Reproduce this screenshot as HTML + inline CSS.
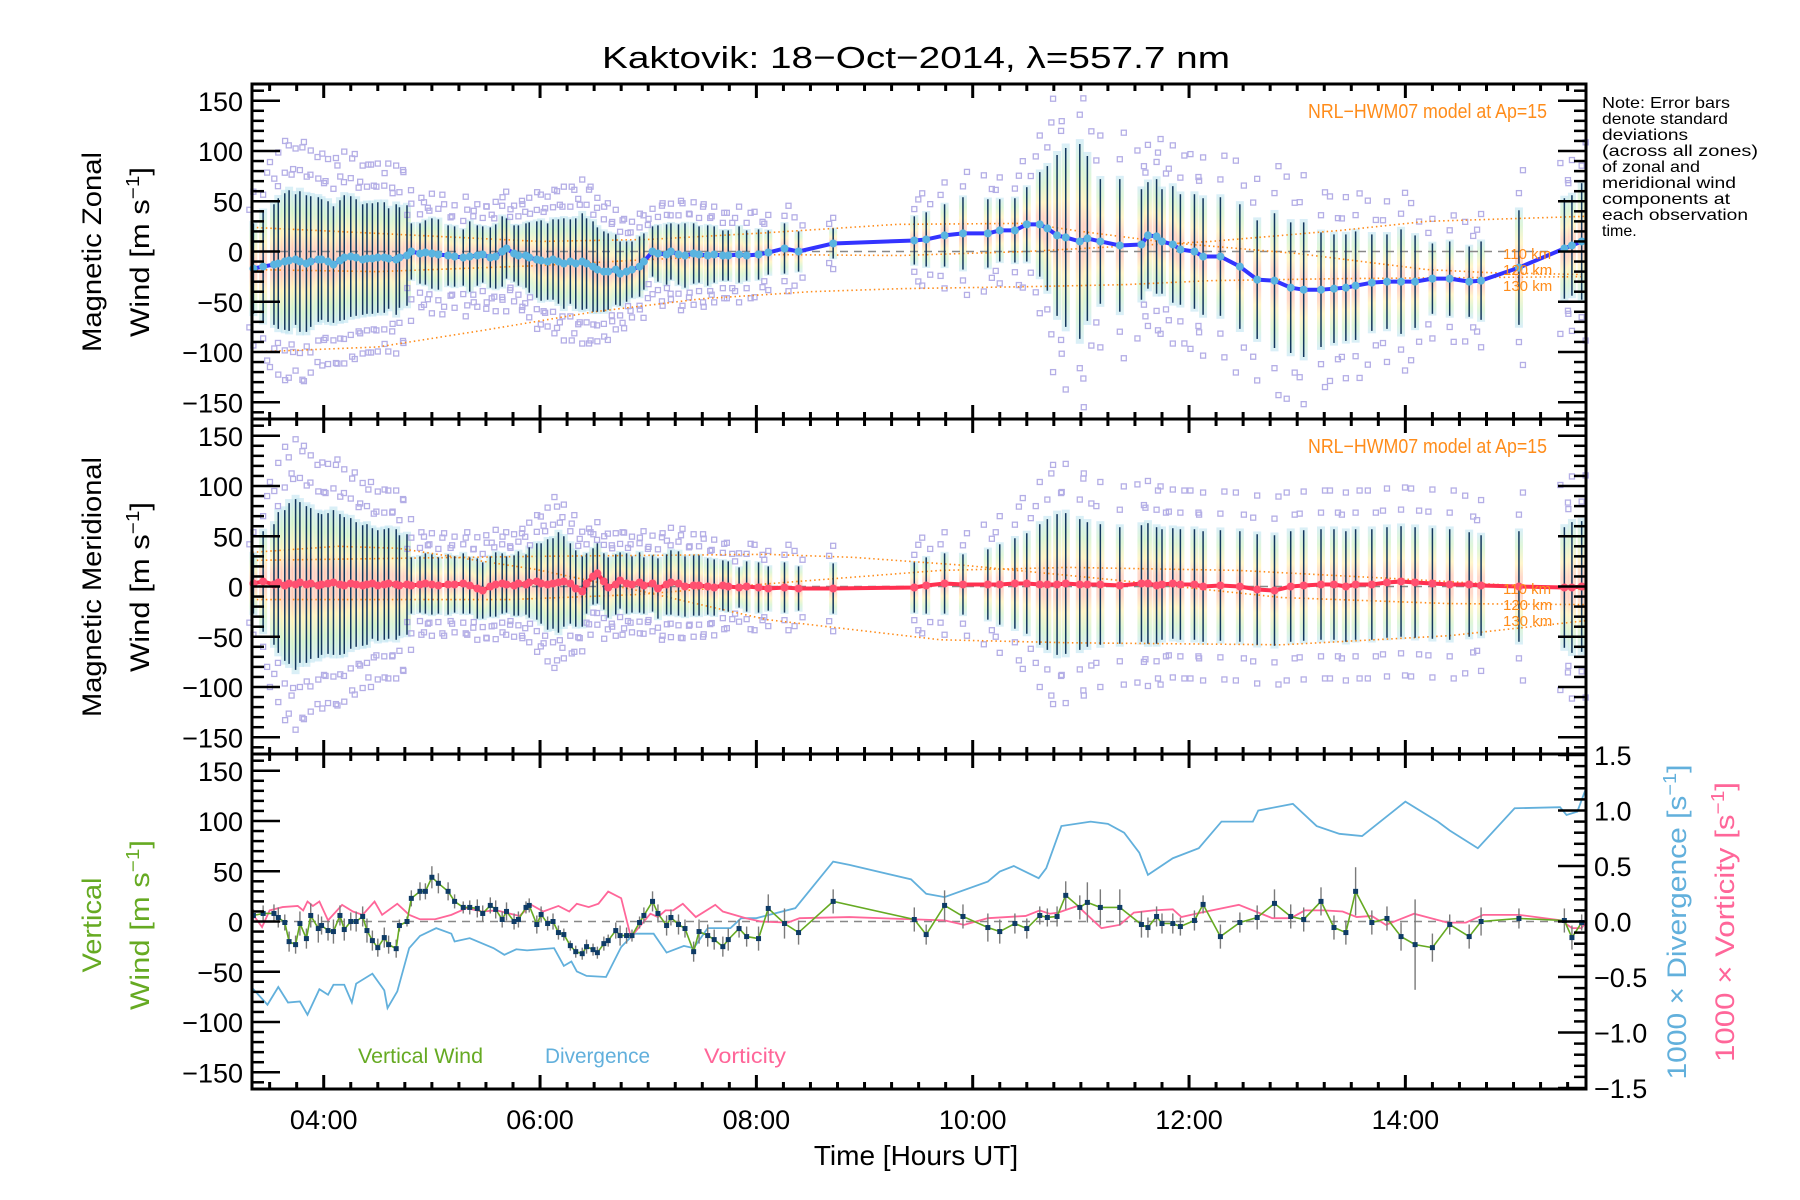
<!DOCTYPE html>
<html><head><meta charset="utf-8"><title>Kaktovik winds</title>
<style>
html,body{margin:0;padding:0;background:#fff;}
svg{display:block;font-family:"Liberation Sans",sans-serif;}
</style></head>
<body>
<svg id="chart" width="1800" height="1200" viewBox="0 0 1800 1200" xmlns="http://www.w3.org/2000/svg">
<defs>
<linearGradient id="band" x1="0" y1="0" x2="0" y2="1">
<stop offset="0" stop-color="#c0e4f4"/><stop offset="0.15" stop-color="#c8f0c0"/><stop offset="0.3" stop-color="#fff0a8"/>
<stop offset="0.42" stop-color="#ffc0a8"/><stop offset="0.58" stop-color="#ffc0a8"/><stop offset="0.7" stop-color="#fff0a8"/><stop offset="0.85" stop-color="#c8f0c0"/><stop offset="1" stop-color="#c0e4f4"/>
</linearGradient>
</defs>
<text x="916" y="68" text-anchor="middle" font-size="31" textLength="628" lengthAdjust="spacingAndGlyphs">Kaktovik: 18−Oct−2014, λ=557.7 nm</text>
<g font-size="16" fill="#000">
<text x="1602" y="108" textLength="128" lengthAdjust="spacingAndGlyphs">Note: Error bars</text>
<text x="1602" y="124" textLength="126" lengthAdjust="spacingAndGlyphs">denote standard</text>
<text x="1602" y="140" textLength="86" lengthAdjust="spacingAndGlyphs">deviations</text>
<text x="1602" y="156" textLength="156" lengthAdjust="spacingAndGlyphs">(across all zones)</text>
<text x="1602" y="172" textLength="98" lengthAdjust="spacingAndGlyphs">of zonal and</text>
<text x="1602" y="188" textLength="134" lengthAdjust="spacingAndGlyphs">meridional wind</text>
<text x="1602" y="204" textLength="128" lengthAdjust="spacingAndGlyphs">components at</text>
<text x="1602" y="220" textLength="146" lengthAdjust="spacingAndGlyphs">each observation</text>
<text x="1602" y="236">time.</text>
</g>
</svg>
<script>
// ---------- data ----------
const obsTimes = [3.35,3.44,3.54,3.58,3.64,3.68,3.74,3.78,3.84,3.88,3.95,3.98,4.04,4.09,4.15,4.19,4.25,4.30,4.36,4.40,4.45,4.50,4.56,4.60,4.67,4.70,4.77,4.81,4.89,4.94,5.00,5.06,5.15,5.21,5.29,5.35,5.42,5.47,5.54,5.59,5.65,5.69,5.76,5.80,5.87,5.90,5.97,6.01,6.07,6.12,6.17,6.22,6.28,6.33,6.39,6.43,6.49,6.53,6.59,6.63,6.70,6.74,6.80,6.85,6.92,6.96,7.04,7.09,7.17,7.21,7.28,7.34,7.42,7.47,7.55,7.61,7.69,7.74,7.84,7.91,8.02,8.11,8.26,8.39,8.71,
9.46,9.57,9.74,9.91,10.14,10.25,10.39,10.50,10.62,10.69,10.78,10.86,10.99,11.06,11.18,11.36,11.56,11.62,11.70,11.75,11.85,11.92,12.05,12.13,12.29,12.47,12.63,12.79,12.94,13.06,13.22,13.34,13.45,13.54,13.69,13.83,13.96,14.09,14.25,14.41,14.59,14.70,15.05,15.47,15.54,15.63];
const zonalMean = [-17,-15,-13,-12,-10,-9,-8,-10,-12,-10,-8,-8,-10,-13,-9,-6,-5,-6,-8,-7,-7,-6,-6,-7,-8,-6,-4,0,-2,-1,-2,-3,-4,-5,-6,-5,-4,-3,-6,-5,0,3,-2,-4,-4,-6,-8,-9,-10,-8,-10,-12,-10,-12,-10,-12,-15,-18,-20,-20,-18,-22,-20,-18,-15,-10,0,-2,-3,0,-3,-4,-2,-3,-4,-3,-4,-4,-3,-4,-3,-1,3,0,8,
11,12,16,18,18,21,21,27,27,23,16,14,10,13,10,6,7,16,15,10,7,2,0,-5,-5,-15,-28,-29,-36,-38,-38,-37,-36,-34,-31,-30,-30,-30,-27,-27,-30,-29,-16,3,6,10];
const zonalSd = [45,55,60,65,68,70,65,70,68,65,62,60,60,58,60,62,60,58,55,55,55,55,55,50,55,50,50,
28,30,32,35,35,30,30,28,35,30,28,30,32,35,30,28,30,32,35,38,40,38,40,42,45,42,45,48,45,45,42,40,38,35,32,30,28,30,28,
25,28,30,28,30,32,30,28,30,28,25,25,28,25,25,22,25,20,15,
24,27,31,36,34,31,32,37,52,62,80,89,97,82,62,66,55,53,57,52,58,55,57,58,59,62,59,67,65,67,57,54,53,54,48,47,52,46,35,37,35,39,57,50,50,58];
const meridMean = [3,5,2,4,1,3,2,4,2,3,1,2,3,4,2,1,3,2,1,2,3,1,2,3,2,1,2,
1,2,3,2,1,2,2,3,1,-2,-4,0,2,3,2,1,3,2,4,5,3,2,3,4,5,3,-2,-5,3,10,13,5,-1,2,6,3,2,4,1,
3,-2,2,4,3,0,1,1,0,-1,1,0,-1,0,-1,-2,-1,-2,-2,
-1,1,3,2,2,2,3,3,2,2,2,3,2,2,2,1,3,3,1,2,3,2,2,0,1,0,-3,-4,0,1,2,2,0,2,2,4,5,4,3,2,2,1,0,-1,-1,0];
const meridSd = [30,50,60,70,75,80,85,80,78,75,72,70,70,72,70,68,65,62,60,60,55,55,55,55,55,50,50,
28,28,30,30,28,30,28,30,28,30,28,30,32,30,28,30,32,30,35,38,40,45,45,50,45,40,38,35,30,28,30,28,30,30,28,30,28,30,28,
28,30,30,32,32,30,30,30,28,28,25,25,20,25,25,22,25,22,25,
25,28,30,30,35,40,45,50,60,65,70,70,65,62,60,58,58,60,58,55,55,55,55,55,55,55,55,55,55,55,55,55,55,55,55,55,55,55,55,55,52,50,55,60,65,65];
const vertWind = [6,8,8,4,-1,-20,-23,-2,-17,6,-7,-4,-9,-10,6,-8,0,0,5,-9,-19,-26,-16,-23,-27,-4,0,23,30,30,44,38,30,20,14,14,13,8,16,12,2,10,0,2,14,16,-3,7,-2,0,-11,-13,-24,-30,-32,-25,-28,-31,-22,-19,-9,-14,-14,-14,-1,6,20,8,-4,4,-3,-7,-30,-10,-14,-18,-25,-18,-7,-15,-17,13,-2,-11,20,
2,-13,16,5,-6,-10,-2,-7,6,4,5,26,14,19,14,14,-3,-6,5,-2,-2,-5,1,17,-15,-1,4,18,5,2,20,-6,-11,30,-1,3,-15,-23,-26,-3,-15,0,3,1,-16,-1];
const vertErr = [6,8,9,10,8,10,9,12,10,12,14,9,10,12,10,11,9,10,10,12,10,9,10,9,9,6,5,8,9,8,11,10,9,7,6,7,9,8,8,9,8,9,8,8,6,7,9,8,7,8,7,6,5,6,6,7,6,6,7,6,8,10,8,6,6,8,10,9,10,8,10,9,10,12,11,10,10,11,9,10,12,14,15,12,12,
12,10,15,12,14,12,10,10,9,9,10,14,12,20,18,18,13,10,10,10,10,9,10,9,12,10,12,14,12,12,14,12,12,24,12,12,14,45,14,10,12,14,10,12,12,8];
const divTimes = [3.34,3.48,3.58,3.67,3.78,3.85,3.96,4.04,4.09,4.19,4.26,4.30,4.45,4.56,4.59,4.68,4.79,4.89,5.04,5.18,5.21,5.35,5.57,5.67,5.78,5.88,6.13,6.22,6.29,6.34,6.43,6.61,6.75,6.87,7.05,7.17,7.33,7.42,7.55,7.76,7.86,8.00,8.36,8.71,8.86,9.43,9.57,9.74,10.14,10.25,10.38,10.61,10.68,10.82,11.09,11.25,11.40,11.54,11.62,11.85,12.09,12.30,12.59,12.64,12.96,13.18,13.39,13.60,14.00,14.30,14.41,14.67,15.01,15.43,15.49,15.59,15.67];
const divValues = [-0.60,-0.75,-0.59,-0.73,-0.72,-0.84,-0.61,-0.66,-0.57,-0.57,-0.73,-0.56,-0.47,-0.62,-0.78,-0.63,-0.24,-0.13,-0.06,-0.11,-0.18,-0.15,-0.24,-0.30,-0.25,-0.26,-0.24,-0.40,-0.36,-0.45,-0.49,-0.50,-0.23,-0.11,-0.11,-0.28,-0.22,-0.24,-0.06,-0.06,0.03,0.03,0.12,0.54,0.51,0.38,0.25,0.22,0.36,0.45,0.50,0.39,0.48,0.86,0.9,0.88,0.8,0.62,0.42,0.57,0.66,0.9,0.9,1.0,1.06,0.86,0.79,0.77,1.08,0.9,0.82,0.66,1.02,1.03,0.96,0.99,1.2];
const vorTimes = [3.34,3.43,3.50,3.62,3.76,3.81,3.85,3.90,3.96,4.04,4.17,4.27,4.36,4.47,4.54,4.68,4.79,4.89,5.03,5.18,5.32,5.46,5.60,5.81,5.92,6.03,6.17,6.27,6.34,6.45,6.54,6.63,6.75,6.84,7.02,7.09,7.16,7.23,7.32,7.44,7.62,7.69,7.90,8.04,8.29,8.40,8.86,9.43,9.74,9.92,10.14,10.49,10.62,10.71,10.79,10.97,11.19,11.36,11.49,11.67,11.85,11.93,12.11,12.46,12.77,12.94,13.07,13.25,13.42,13.55,13.69,13.82,14.08,14.39,14.56,14.72,15.05,15.44,15.54,15.63,15.67];
const vorValues = [0.07,-0.05,0.10,0.13,0.14,0.10,0.18,0.14,0.18,0.01,0.15,0.09,0.06,0.18,0.06,0.16,0.06,0.02,0.02,0.06,0.12,0.09,0.10,0.05,0.15,0.09,0.14,0.09,0.16,0.13,0.16,0.27,0.21,-0.14,0.07,0.04,0.10,0.10,0.16,0.04,0.15,0.09,0.03,0.00,-0.01,0.03,0.04,0.02,0.01,-0.03,0.03,0.05,0.10,0.07,0.08,0.14,-0.06,-0.03,0.08,0.10,0.11,0.04,0.08,0.15,0.03,0.03,0.10,0.10,0.09,0.04,0.05,-0.03,0.07,-0.01,-0.01,0.06,0.06,0.01,-0.06,-0.06,0.0];
const zModelT1 = [3.34,4.5,6,7,8,9.3,10.5,11.0,11.8,13.0,14.2,14.77,15.67];
const zModelV1 = [24,18,10,12,18,27,28,20,9,-2,-18,-21,-23];
const zModelT2 = [3.34,4.5,6,7,8,9.33,10.5,12.2,13.4,14.2,15.67];
const zModelV2 = [-18,-20,-14,-8,-3,-4,0,10,21,30,35];
const zModelT3 = [3.34,4.5,5.5,6.5,7.5,8.5,9.33,10.5,11.4,12.2,13.4,15.67];
const zModelV3 = [-100,-95,-78,-60,-47,-40,-37,-35,-33,-29,-27,-25];
const mModelT1 = [3.34,5.96,8.1,8.9,9.93,11.27,12.86,14.4,15.67];
const mModelV1 = [26,30,32,29,21,7,-11,-17,-18];
const mModelT2 = [3.34,4.13,4.69,5.96,6.99,8.1,9.7,10.9,12.86,14.4,15.67];
const mModelV2 = [34,40,38,17,-6,-33,-53,-56,-58,-49,-34];
const mModelT3 = [3.34,5.72,6.9,8.26,9.7,10.9,12.46,14.05,15.67];
const mModelV3 = [-13,-13,-8,4,16,19,16,7,-3];
const windTicks = [-150,-100,-50,0,50,100,150];
const rightTicks = [-1.5,-1.0,-0.5,0.0,0.5,1.0,1.5];
const hourTicks = [4,6,8,10,12,14];
const hourLabels = ["04:00","06:00","08:00","10:00","12:00","14:00"];

// ---------- layout ----------
const SVGNS = "http://www.w3.org/2000/svg";
const svg = document.getElementById('chart');
const L = 252, R = 1586, T0 = 3.337, T1 = 15.67;
const PH = 335, PY = 1.005, DY = 111;
const panels = [84, 419, 754];
function X(t){ return L + (t - T0) / (T1 - T0) * (R - L); }
function Yw(p, v){ return panels[p] + PH/2 - v * PY; }
function Yd(v){ return panels[2] + PH/2 - v * DY; }
function mk(tag, attrs, parent){
  const e = document.createElementNS(SVGNS, tag);
  for (const k in attrs) e.setAttribute(k, attrs[k]);
  (parent || svg).appendChild(e);
  return e;
}
function fmt(v){ return (v < 0 ? "−" : "") + Math.abs(v); }
function fmt1(v){ return (v < 0 ? "−" : "") + Math.abs(v).toFixed(1); }

function windPanel(p, mean, sd, lineColor, mkColor, mT1,mV1,mT2,mV2,mT3,mV3, prefix){
  const g = mk('g', {});
  
  
  for (let i = 0; i < obsTimes.length; i++){
    const x = X(obsTimes[i]);
    const r = mk('rect', {x: x-4, y: Yw(p, mean[i]+sd[i]*1.05), width: 8, height: sd[i]*2.1*PY, fill: 'url(#band)', opacity: 0.6}, g);
    
    
  }
  const ks = [1.3, 1.7];
  for (let i = 0; i < obsTimes.length; i++){
    const x = X(obsTimes[i]);
    ks.forEach((k, j) => {
      const dx = ((i + j) % 3 - 1) * 4;
      [1, -1].forEach(s => {
        const y = Yw(p, mean[i] + s * sd[i] * k);
        if (y < panels[p] + 3 || y > panels[p] + PH - 3) return;
        const q = mk('rect', {x: x+dx-2.5, y: y-2.5, width: 5, height: 5, fill: 'none', stroke: '#b4aee6', 'stroke-width': 1.3}, g);
        
        
      });
    });
  }
  const z = mk('line', {x1: L, x2: R, y1: Yw(p,0), y2: Yw(p,0), stroke: '#888', 'stroke-width': 1.5, 'stroke-dasharray': '8 6'}, g);
  
  
  [[mT1,mV1,'110'],[mT2,mV2,'120'],[mT3,mV3,'130']].forEach(c => {
    const pts = c[0].map((t, i) => X(t) + ',' + Yw(p, c[1][i])).join(' ');
    const m = mk('polyline', {points: pts, fill: 'none', stroke: '#ff8c1a', 'stroke-width': 1.6, 'stroke-dasharray': '1.5 3'}, g);
    
    
  });
  for (let i = 0; i < obsTimes.length; i++){
    const x = X(obsTimes[i]);
    const e = mk('line', {x1: x, x2: x, y1: Yw(p, mean[i]+sd[i]), y2: Yw(p, mean[i]-sd[i]), stroke: '#13375e', 'stroke-width': 1.5}, g);
    
    
  }
  const pts = obsTimes.map((t, i) => X(t) + ',' + Yw(p, mean[i])).join(' ');
  const ln = mk('polyline', {points: pts, fill: 'none', stroke: lineColor, 'stroke-width': 4, 'stroke-linejoin': 'round'}, g);
  
  
  for (let i = 0; i < obsTimes.length; i++){
    const c = mk('circle', {cx: X(obsTimes[i]), cy: Yw(p, mean[i]), r: 4, fill: mkColor}, g);
    
    
  }
  const lab = mk('text', {x: 1547, y: panels[p] + 34, 'text-anchor': 'end', 'font-size': 20, fill: '#ff8c1a', textLength: 239, lengthAdjust: 'spacingAndGlyphs'}, g);
  lab.textContent = 'NRL−HWM07 model at Ap=15';
  
  
  ['110 km','120 km','130 km'].forEach((s, i) => {
    const t = mk('text', {x: 1503, y: panels[p] + 175 + i*16, 'font-size': 15, fill: '#ff8c1a'}, g);
    t.textContent = s;
    
    
  });
}
windPanel(0, zonalMean, zonalSd, '#3333ff', '#5ab4e0', zModelT1,zModelV1,zModelT2,zModelV2,zModelT3,zModelV3, 'zonal');
windPanel(1, meridMean, meridSd, '#ff3050', '#ff5070', mModelT1,mModelV1,mModelT2,mModelV2,mModelT3,mModelV3, 'meridional');

(function(){
  const g = mk('g', {});
  
  
  const z = mk('line', {x1: L, x2: R, y1: Yw(2,0), y2: Yw(2,0), stroke: '#888', 'stroke-width': 1.5, 'stroke-dasharray': '8 6'}, g);
  
  
  const dp = divTimes.map((t, i) => X(t) + ',' + Yd(divValues[i])).join(' ');
  const dl = mk('polyline', {points: dp, fill: 'none', stroke: '#62b0dc', 'stroke-width': 1.8}, g);
  
  
  const vp = vorTimes.map((t, i) => X(t) + ',' + Yd(vorValues[i])).join(' ');
  const vl = mk('polyline', {points: vp, fill: 'none', stroke: '#ff6699', 'stroke-width': 1.8}, g);
  
  
  for (let i = 0; i < obsTimes.length; i++){
    const x = X(obsTimes[i]); const e = vertErr[i] ?? 10;
    const b = mk('line', {x1: x, x2: x, y1: Yw(2, vertWind[i]+e), y2: Yw(2, vertWind[i]-e), stroke: '#7a7a7a', 'stroke-width': 1.4}, g);
    
    
  }
  const wp = obsTimes.map((t, i) => X(t) + ',' + Yw(2, vertWind[i])).join(' ');
  const wl = mk('polyline', {points: wp, fill: 'none', stroke: '#66aa22', 'stroke-width': 1.6}, g);
  
  
  for (let i = 0; i < obsTimes.length; i++){
    const q = mk('rect', {x: X(obsTimes[i])-2.5, y: Yw(2, vertWind[i])-2.5, width: 5, height: 5, fill: '#0e3b66'}, g);
    
    
  }
  [['Vertical Wind', 358, '#66aa22', 125, 'legend-vertical-wind'], ['Divergence', 545, '#62b0dc', 105, 'legend-divergence'], ['Vorticity', 704, '#ff6699', 82, 'legend-vorticity']].forEach(a => {
    const t = mk('text', {x: a[1], y: 1063, 'font-size': 21, fill: a[2], textLength: a[3], lengthAdjust: 'spacingAndGlyphs'}, g);
    t.textContent = a[0];
    
    
  });
})();

const ax = mk('g', {stroke: '#000', fill: 'none'});


for (let p = 0; p < 3; p++){
  const top = panels[p], bot = panels[p] + PH;
  const fr = mk('rect', {x: L, y: top, width: R-L, height: PH, 'stroke-width': 3}, ax);
  
  
  for (let v = -160; v <= 160; v += 10){
    const y = Yw(p, v); const len = v % 50 === 0 ? 28 : 12;
    const tl = mk('line', {x1: L, x2: L+len, y1: y, y2: y, 'stroke-width': 2.5}, ax);
    
    
    if (p < 2){
      const tr = mk('line', {x1: R, x2: R-len, y1: y, y2: y, 'stroke-width': 2.5}, ax);
      
      
    }
  }
  for (let m = 14; m <= 62; m++){
    const t = m / 4; if (t < T0 || t > T1) continue;
    const x = X(t); const len = (m % 8 === 0) ? 14 : 7;
    const a = mk('line', {x1: x, x2: x, y1: top, y2: top+len, 'stroke-width': 3}, ax);
    
    
    const b = mk('line', {x1: x, x2: x, y1: bot, y2: bot-len, 'stroke-width': 3}, ax);
    
    
  }
  windTicks.forEach(v => {
    const t = mk('text', {x: 243, y: Yw(p, v) + 10, 'text-anchor': 'end', 'font-size': 27, fill: '#000', stroke: 'none'});
    t.textContent = fmt(v);
    
    
  });
}
for (let k = -15; k <= 15; k++){
  const v = k / 10; const y = Yd(v); const len = (k % 5 === 0) ? 28 : 12;
  const tr = mk('line', {x1: R, x2: R-len, y1: y, y2: y, 'stroke-width': 2.5}, ax);
  
  
}
rightTicks.forEach(v => {
  const t = mk('text', {x: 1594, y: Yd(v) + 10, 'font-size': 27, fill: '#000'});
  t.textContent = fmt1(v);
  
  
});
hourTicks.forEach((h, i) => {
  const t = mk('text', {x: X(h), y: 1129, 'text-anchor': 'middle', 'font-size': 27, fill: '#000'});
  t.textContent = hourLabels[i];
  
  
});
const xt = mk('text', {x: 916, y: 1165, 'text-anchor': 'middle', 'font-size': 28, fill: '#000'});
xt.textContent = 'Time [Hours UT]';



function vtitle(cx, cy, txt, color, len, name, sup){
  const t = mk('text', {x: 0, y: 0, transform: `translate(${cx},${cy}) rotate(-90)`, 'text-anchor': 'middle', 'font-size': 27, fill: color, textLength: len, lengthAdjust: 'spacingAndGlyphs'});
  if (sup){
    t.appendChild(document.createTextNode(txt));
    const s = mk('tspan', {dy: -10, 'font-size': 18}, t); s.textContent = '−1';
    const s2 = mk('tspan', {dy: 10}, t); s2.textContent = ']';
  } else t.textContent = txt;
  
  
}
vtitle(101, 252, 'Magnetic Zonal', '#000', 200, 'zonal-y-title', false);
vtitle(149, 252, 'Wind [m s', '#000', 170, 'zonal-y-units', true);
vtitle(101, 587, 'Magnetic Meridional', '#000', 260, 'meridional-y-title', false);
vtitle(149, 587, 'Wind [m s', '#000', 170, 'meridional-y-units', true);
vtitle(101, 925, 'Vertical', '#66aa22', 95, 'vertical-y-title', false);
vtitle(149, 925, 'Wind [m s', '#66aa22', 170, 'vertical-y-units', true);
vtitle(1686, 922, '1000 × Divergence [s', '#62b0dc', 315, 'divergence-y-title', true);
vtitle(1734, 922, '1000 × Vorticity [s', '#ff6699', 280, 'vorticity-y-title', true);
</script>
</body></html>
